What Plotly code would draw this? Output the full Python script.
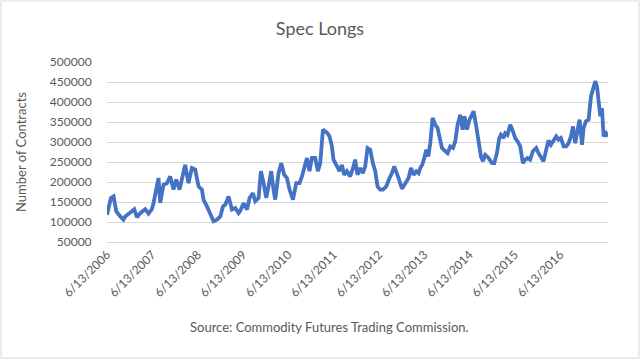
import plotly.graph_objects as go
import pandas as pd

# Dates as decimal years, values = number of contracts
decimal_years = [
    2006.458, 2006.533, 2006.591, 2006.650, 2006.739, 2006.811, 2006.849, 2006.922, 2006.997, 2007.048,
    2007.107, 2007.180, 2007.290, 2007.363, 2007.438, 2007.474, 2007.533, 2007.584, 2007.622, 2007.694,
    2007.770, 2007.842, 2007.915, 2007.975, 2008.048, 2008.101, 2008.173, 2008.246, 2008.321, 2008.394,
    2008.467, 2008.542, 2008.577, 2008.653, 2008.725, 2008.798, 2008.873, 2008.946, 2009.006, 2009.056,
    2009.129, 2009.204, 2009.277, 2009.350, 2009.388, 2009.460, 2009.536, 2009.593, 2009.668, 2009.719,
    2009.792, 2009.845, 2009.902, 2009.962, 2010.012, 2010.072, 2010.123, 2010.160, 2010.233, 2010.293,
    2010.359, 2010.419, 2010.476, 2010.551, 2010.624, 2010.697, 2010.750, 2010.807, 2010.860, 2010.917,
    2010.970, 2011.043, 2011.103, 2011.154, 2011.213, 2011.264, 2011.315, 2011.359, 2011.412, 2011.447,
    2011.522, 2011.580, 2011.633, 2011.683, 2011.743, 2011.816, 2011.889, 2011.926, 2011.977, 2012.037,
    2012.096, 2012.147, 2012.198, 2012.257, 2012.317, 2012.368, 2012.419, 2012.478, 2012.538, 2012.611,
    2012.683, 2012.736, 2012.787, 2012.831, 2012.882, 2012.957, 2013.030, 2013.103, 2013.156, 2013.213,
    2013.273, 2013.324, 2013.361, 2013.405, 2013.449, 2013.494, 2013.538, 2013.582, 2013.633, 2013.692,
    2013.743, 2013.787, 2013.840, 2013.913, 2013.964, 2014.023, 2014.083, 2014.134, 2014.185, 2014.244,
    2014.295, 2014.339, 2014.392, 2014.449, 2014.502, 2014.538, 2014.597, 2014.648, 2014.701, 2014.745,
    2014.796, 2014.869, 2014.944, 2014.995, 2015.054, 2015.105, 2015.142, 2015.200, 2015.237, 2015.288,
    2015.348, 2015.407, 2015.458, 2015.509, 2015.569, 2015.628, 2015.679, 2015.730, 2015.789, 2015.849,
    2015.922, 2015.973, 2016.026, 2016.083, 2016.143, 2016.193, 2016.246, 2016.304, 2016.363, 2016.414,
    2016.467, 2016.525, 2016.584, 2016.635, 2016.688, 2016.732, 2016.783, 2016.834, 2016.878, 2016.931,
    2016.966, 2017.019, 2017.076, 2017.129, 2017.173, 2017.224, 2017.262, 2017.297, 2017.335, 2017.372,
    2017.407, 2017.460, 2017.505,
]

spec_longs = [
    118000, 160000, 164000, 127000, 114000, 106000, 114000, 122000, 127000, 132000,
    112000, 122000, 132000, 121000, 132000, 147000, 181000, 210000, 148000, 193000,
    197000, 214000, 181000, 206000, 181000, 206000, 243000, 197000, 235000, 231000,
    189000, 181000, 156000, 139000, 122000, 102000, 106000, 114000, 139000, 143000,
    164000, 131000, 135000, 122000, 128000, 147000, 131000, 160000, 172000, 152000,
    160000, 227000, 197000, 160000, 189000, 227000, 181000, 156000, 222000, 247000,
    218000, 210000, 181000, 156000, 197000, 197000, 214000, 243000, 260000, 227000,
    260000, 260000, 227000, 247000, 331000, 327000, 322000, 314000, 289000, 256000,
    239000, 227000, 243000, 218000, 227000, 214000, 239000, 256000, 218000, 235000,
    222000, 239000, 285000, 281000, 247000, 227000, 189000, 181000, 181000, 189000,
    210000, 222000, 239000, 227000, 210000, 183000, 197000, 210000, 235000, 218000,
    227000, 222000, 235000, 243000, 260000, 281000, 264000, 297000, 360000, 343000,
    335000, 314000, 285000, 277000, 272000, 289000, 285000, 302000, 343000, 368000,
    331000, 364000, 331000, 356000, 368000, 377000, 339000, 306000, 264000, 252000,
    268000, 260000, 247000, 247000, 272000, 310000, 318000, 310000, 322000, 318000,
    343000, 327000, 310000, 302000, 289000, 247000, 256000, 260000, 256000, 277000,
    285000, 272000, 260000, 252000, 281000, 304000, 293000, 302000, 314000, 306000,
    310000, 289000, 289000, 297000, 314000, 339000, 297000, 331000, 356000, 293000,
    335000, 352000, 356000, 414000, 431000, 452000, 439000, 406000, 364000, 385000,
    314000, 322000, 314000,
]

tick_dates = ["2006-06-13", "2007-06-13", "2008-06-13", "2009-06-13", "2010-06-13",
              "2011-06-13", "2012-06-13", "2013-06-13", "2014-06-13", "2015-06-13",
              "2016-06-13"]
tick_labels = ["6/13/2006", "6/13/2007", "6/13/2008", "6/13/2009", "6/13/2010",
               "6/13/2011", "6/13/2012", "6/13/2013", "6/13/2014", "6/13/2015",
               "6/13/2016"]
y_ticks = [50000, 100000, 150000, 200000, 250000, 300000, 350000, 400000, 450000, 500000]


def to_date(dy):
    yr = int(dy)
    start = pd.Timestamp(year=yr, month=1, day=1)
    end = pd.Timestamp(year=yr + 1, month=1, day=1)
    return start + (end - start) * (dy - yr)


dates = [to_date(d) for d in decimal_years]
dates[0] = pd.Timestamp("2006-06-13")

FONT = "Lato, 'Open Sans', sans-serif"
GREY = "#595959"

fig = go.Figure()
fig.add_trace(go.Scatter(
    x=dates, y=spec_longs, mode="lines",
    line=dict(color="#4472C4", width=3.8),
    hoverinfo="skip", showlegend=False,
))

fig.update_layout(
    width=640, height=359,
    paper_bgcolor="white", plot_bgcolor="white",
    margin=dict(l=107, r=32, t=62, b=117),
    title=dict(text="Spec Longs", x=0.5, xanchor="center", y=0.92, yanchor="middle",
               font=dict(family=FONT, size=18, color=GREY)),
    font=dict(family=FONT, color=GREY, size=12),
    xaxis=dict(
        type="date",
        range=[dates[0], dates[-1]],
        tickvals=tick_dates, ticktext=tick_labels, tickangle=-45,
        showgrid=False, zeroline=False,
        showline=True, linecolor="#D9D9D9", linewidth=1,
        ticks="", tickfont=dict(size=12, color=GREY),
    ),
    yaxis=dict(
        range=[50000, 500000], tickvals=y_ticks, tickformat="d",
        showgrid=True, gridcolor="#D9D9D9", gridwidth=1,
        zeroline=False, showline=False,
        ticks="outside", ticklen=12, tickcolor="rgba(0,0,0,0)",
        tickfont=dict(size=12, color=GREY),
        title=dict(text="Number of Contracts", font=dict(size=13, color=GREY), standoff=20),
    ),
    annotations=[dict(
        text="Source: Commodity Futures Trading Commission.",
        xref="paper", yref="paper", x=0.445, y=-0.47, xanchor="center", yanchor="middle",
        showarrow=False, font=dict(family=FONT, size=13, color=GREY),
    )],
)

# outer chart border
fig.add_shape(type="rect", xref="paper", yref="paper",
              x0=-106/501, x1=1 + 31/501, y0=-116/180, y1=1 + 61/180,
              line=dict(color="#D9D9D9", width=1), layer="below")

fig.write_html("out.html", config={"displayModeBar": False},
               post_script="document.body.style.margin='0';")
